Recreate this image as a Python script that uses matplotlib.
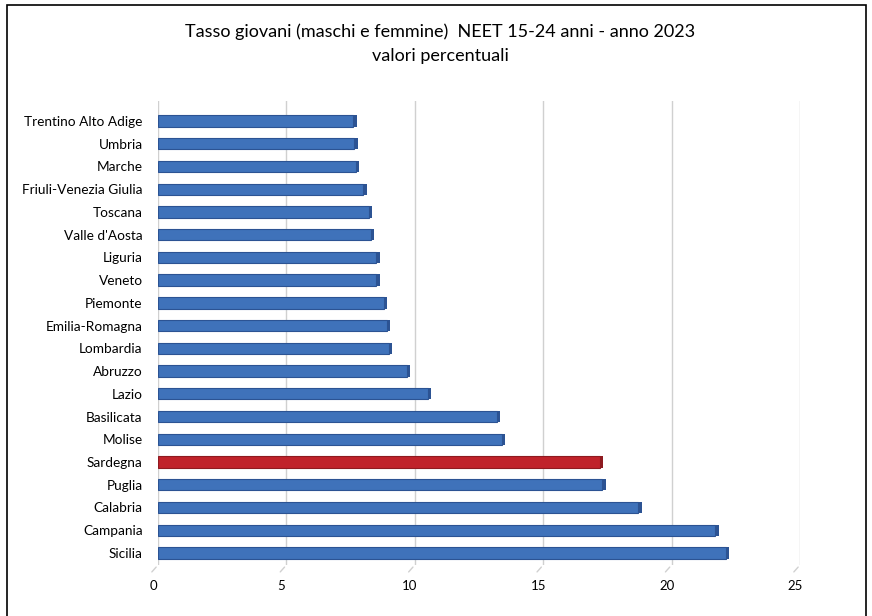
import matplotlib.pyplot as plt
import matplotlib.patches as patches
import matplotlib.transforms as mtransforms

regioni = ['Sicilia', 'Campania', 'Calabria', 'Puglia', 'Sardegna', 'Molise',
           'Basilicata', 'Lazio', 'Abruzzo', 'Lombardia', 'Emilia-Romagna',
           'Piemonte', 'Veneto', 'Liguria', "Valle d'Aosta", 'Toscana',
           'Friuli-Venezia Giulia', 'Marche', 'Umbria', 'Trentino Alto Adige']
neet = [22.1, 21.7, 18.7, 17.3, 17.2, 13.4, 13.2, 10.5, 9.7, 9.0, 8.9,
        8.8, 8.5, 8.5, 8.3, 8.2, 8.0, 7.7, 7.65, 7.6]
evidenza = 'Sardegna'
xticks = [0, 5, 10, 15, 20, 25]

W, H = 872, 616
fig = plt.figure(figsize=(W/100, H/100), dpi=100)
plt.rcParams['font.family'] = ['Lato', 'DejaVu Sans']

# plot area in pixels
left, right, top, bottom = 158, 800, 101, 565
ax = fig.add_axes([left/W, 1-bottom/H, (right-left)/W, (bottom-top)/H])

col = ['#C0222A' if r == evidenza else '#3F72BA' for r in regioni]
dark = ['#8E1A20' if r == evidenza else '#2C5393' for r in regioni]
y = list(range(len(regioni)))
ax.barh(y, neet, height=0.5, color=col, edgecolor=dark, linewidth=0.8, zorder=3)
# piccolo lato scuro per l'effetto 3D
ax.barh(y, [0.13]*len(neet), left=neet, height=0.5, color=dark, linewidth=0, zorder=3)

ax.set_xlim(0, 25)
ax.set_ylim(-0.53, 19.88)
ax.set_yticks(y)
ax.set_yticklabels(regioni, fontsize=9.8)
ax.set_xticks(xticks)
ax.set_xticklabels([str(t) for t in xticks], fontsize=9.5)
ax.tick_params(length=0)
ax.tick_params(axis='y', pad=11)
ax.tick_params(axis='x', pad=11)
ax.grid(axis='x', color='#D0D0D0', linewidth=1, zorder=0)
ax.set_axisbelow(True)
for s in ax.spines.values():
    s.set_visible(False)

# tick labels spostate come nel grafico 3D
off = mtransforms.ScaledTranslation(-5/100, 0, fig.dpi_scale_trans)
for lab in ax.get_xticklabels():
    lab.set_transform(lab.get_transform() + off)

# linee del pavimento
for t in xticks:
    ax.annotate('', xy=(t, -0.53), xycoords='data', xytext=(-8, -9),
                textcoords='offset pixels',
                arrowprops=dict(arrowstyle='-', color='#D0D0D0', lw=1))

fig.text(0.505, 1-32/H, 'Tasso giovani (maschi e femmine)  NEET 15-24 anni - anno 2023',
         ha='center', va='center', fontsize=13)
fig.text(0.505, 1-56/H, 'valori percentuali', ha='center', va='center', fontsize=13)

fig.patches.append(patches.Rectangle((7/W, -0.05), (866-7)/W, 1.05-5/H,
                                     transform=fig.transFigure, fill=False,
                                     edgecolor='black', linewidth=1.2))

fig.savefig('out.png', dpi=100)
